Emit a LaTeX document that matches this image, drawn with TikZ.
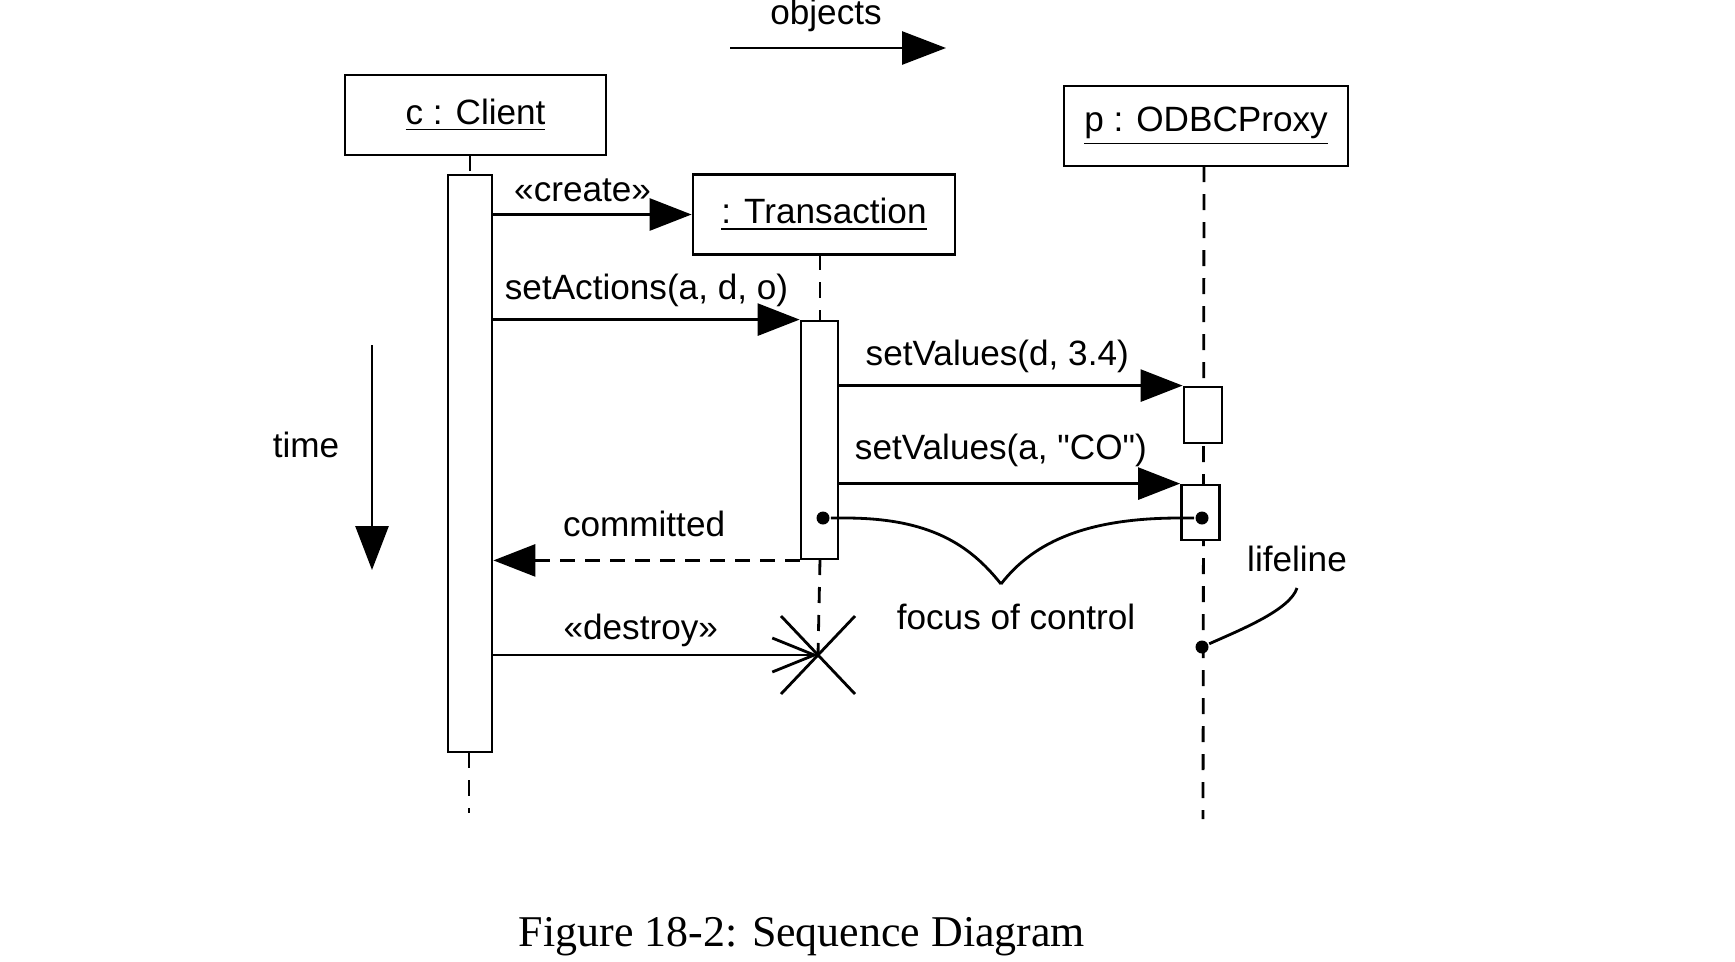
\documentclass[tikz,border=0pt]{standalone}
\usepackage{fontspec}
\setmainfont{Liberation Sans}
\newfontfamily\capfont{Liberation Serif}
\usetikzlibrary{arrows.meta,calc}

\begin{document}
\begin{tikzpicture}[line width=0.8pt,
  font=\fontsize{10}{12}\selectfont,
  box/.style={draw,minimum height=0.8cm,inner sep=0pt},
  act/.style={draw,fill=white,minimum width=0.38cm,inner sep=0pt},
  msg/.style={-{Triangle[length=4.2mm,width=3.2mm]}},
  ret/.style={msg,dash pattern=on 1.5mm off 1mm},
  life/.style={dash pattern=on 1.6mm off 1.2mm},
  blob/.style={circle,fill,inner sep=0pt,minimum size=1.3mm}]

\useasboundingbox (0,0) rectangle (17.35,-9.61);

\node[box,minimum width=2.61cm] (client) at (4.755,-1.15) {\underline{c : Client}};
\node[box,minimum width=2.62cm] (trans) at (8.24,-2.145) {\underline{: Transaction}};
\node[box,minimum width=2.84cm] (proxy) at (12.06,-1.26) {\underline{p : ODBCProxy}};

\draw[life] (4.70,-1.55) -- (4.70,-1.75);
\draw[life] (4.69,-7.52) -- (4.69,-8.13);
\draw[life] (8.20,-2.54) -- (8.20,-3.21);
\draw[life] (8.20,-5.59) -- (8.18,-6.55);
\draw[life] (12.04,-1.66) -- (12.03,-8.19);

\node[act,minimum width=0.44cm,minimum height=5.77cm] (cact) at (4.70,-4.635) {};
\node[act,minimum width=0.37cm,minimum height=2.38cm] (tact) at (8.195,-4.40) {};
\node[act,minimum height=0.56cm] (pact1) at (12.03,-4.15) {};
\node[act,minimum height=0.55cm] (pact2) at (12.005,-5.125) {};

\coordinate (kill) at (8.18,-6.55);

\draw[msg] (cact.east |- trans.west) -- (trans.west) node[pos=0.45,above=0pt] {«create»};
\draw[msg] (cact.east |- tact.north west) -- (tact.north west)
  node[midway,above=0pt] {setActions(a, d, o)};
\draw[msg] (tact.east |- pact1.north west) -- (pact1.north west)
  node[pos=0.46,above=0pt] {setValues(d, 3.4)};
\draw[msg] (tact.east |- pact2.north west) -- (pact2.north west)
  node[pos=0.474,above=1pt] {setValues(a, \textquotedbl CO\textquotedbl)};
\draw[ret] (tact.south west) -- (cact.east |- tact.south west)
  node[pos=0.508,above=3pt] {committed};
\draw[-{Straight Barb[length=4.2mm,width=3.4mm]}] (cact.east |- kill) -- (kill)
  node[pos=0.454,above=-1.5pt] {«destroy»};

\draw ($(kill)+(-0.37,0.39)$) -- ($(kill)+(0.37,-0.39)$);
\draw ($(kill)+(-0.37,-0.39)$) -- ($(kill)+(0.37,0.39)$);

\coordinate (t1) at (3.72,-3.45);
\coordinate (t2) at (3.72,-5.70);
\draw[-{Triangle[length=4.4mm,width=3.3mm]}] (t1) -- (t2);
\node (time) at (3.06,-4.45) {time};

\coordinate (o1) at (7.30,-0.48);
\coordinate (o2) at (9.46,-0.48);
\draw[-{Triangle[length=4.4mm,width=3.3mm]}] (o1) -- (o2);
\node (objects) at (8.26,-0.15) {objects};

\node[blob] (ft) at (8.23,-5.18) {};
\node[blob] (fp) at (12.02,-5.18) {};
\coordinate (tip) at (10.01,-5.84);
\draw (ft) -- (8.45,-5.18) .. controls (9.3,-5.18) and (9.7,-5.45) .. (tip);
\draw (tip) .. controls (10.35,-5.40) and (10.9,-5.18) .. (11.80,-5.18) -- (fp);
\node (focus) at (10.16,-6.17) {focus of control};

\node[blob] (ll) at (12.02,-6.47) {};
\node (lifeline) at (12.97,-5.59) {lifeline};
\draw (ll) .. controls (12.4,-6.30) and (12.9,-6.10) .. (12.97,-5.88);

\node (caption) at (8.02,-9.37) {\capfont\fontsize{12.5}{15}\selectfont Figure 18-2: Sequence Diagram};

\end{tikzpicture}
\end{document}
